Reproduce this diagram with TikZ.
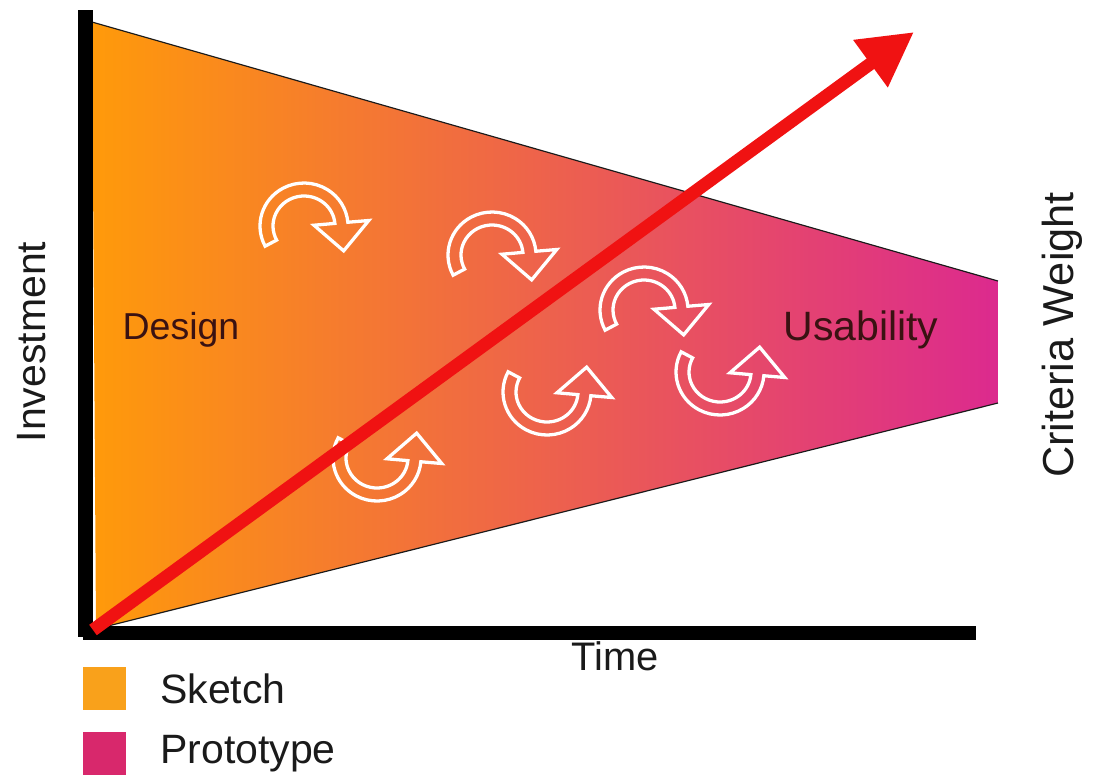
\documentclass[tikz,border=0pt]{standalone}
\usepackage{fontspec}
\setmainfont{Liberation Sans}
\usepackage{tikz}
\usetikzlibrary{arrows.meta,calc}
\definecolor{sketch}{HTML}{FF9A0A}
\definecolor{proto}{HTML}{DC2A8E}
\definecolor{sketchkey}{HTML}{F9A11B}
\definecolor{protokey}{HTML}{D8286C}
\definecolor{growth}{HTML}{F01212}
\definecolor{ink}{HTML}{1A1A1A}
\definecolor{inkdark}{HTML}{3A1212}

\tikzset{
  swirl/.pic={
    \draw[white,line width=2.8pt,line join=miter]
      (208:44 and 43) arc[start angle=208,end angle=5,x radius=44,y radius=43]
      -- (5:65 and 63) -- ($(5:37.5 and 36)+(2.3,-28)$) -- (5:10 and 9)
      -- (5:31 and 30) arc[start angle=5,end angle=208,x radius=31,y radius=30] -- cycle;
  },
  label/.style={font=\fontsize{#1}{#1}\selectfont,text=ink,inner sep=0pt},
}

\begin{document}
\begin{tikzpicture}[x=0.03cm,y=-0.03cm]
  \useasboundingbox (0,0) rectangle (1098,775);
  % funnel between sketch and prototype
  \coordinate (tl) at (92,22);
  \coordinate (tr) at (998,281);
  \coordinate (br) at (998,403);
  \coordinate (bl) at (96,629);
  \shade[left color=sketch,right color=proto] (tl) -- (tr) -- (br) -- (bl) -- cycle;
  \draw[ink,line width=1pt] (tl) -- (tr);
  \draw[ink,line width=1pt] (bl) -- (br);
  % iteration loops
  \foreach \p in {(304,226),(492,255),(644,310)}
     {\pic[yscale=-1] at \p {swirl};}
  \foreach \p in {(377,458),(547,392),(720,372)}
     {\pic at \p {swirl};}
  % axes
  \fill[black] (78,10) rectangle (93,637);
  \fill[black] (83,626) rectangle (976,640);
  % investment arrow
  \coordinate (origin) at (93,630);
  \coordinate (peak) at (914,32);
  \draw[growth,line width=11pt,-{Triangle[length=46pt,width=47pt]}] (origin) -- (peak);
  % labels
  \node[label=32,text=inkdark] (design) at (181,330) {Design};
  \node[label=35,text=inkdark] (usability) at (861,330) {Usability};
  \node[label=35,rotate=90] (investment) at (32,342) {Investment};
  \node[label=37,rotate=90] (criteria) at (1062,335) {Criteria Weight};
  \node[label=34] (time) at (615,656) {Time};
  % legend
  \fill[sketchkey] (83,667) rectangle (126,710);
  \fill[protokey] (83,732) rectangle (126,775);
  \node[label=35,anchor=base west] (sketchname) at (160,703) {Sketch};
  \node[label=35,anchor=base west] (protoname) at (160,763) {Prototype};
\end{tikzpicture}
\end{document}
